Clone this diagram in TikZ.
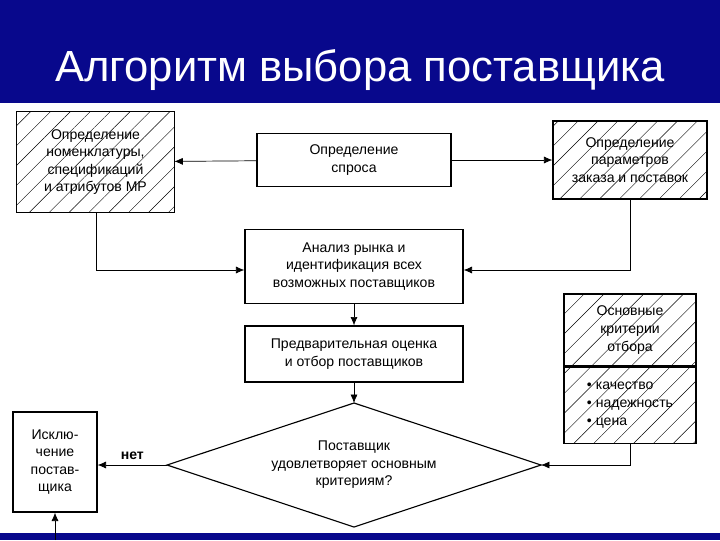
\documentclass[tikz,border=0pt]{standalone}
\usepackage{fontspec}
\setmainfont{Liberation Sans}
\usetikzlibrary{arrows.meta}
\usetikzlibrary{patterns.meta}
\definecolor{hdr}{RGB}{8,8,140}
\tikzset{
  txt/.style={align=center,font=\fontsize{10}{12.5}\selectfont,inner sep=2pt},
  blk/.style={txt,draw,line width=0.8pt},
  hatch/.style={blk,pattern={Lines[angle=45,distance=10pt,line width=0.3pt]}},
  arr/.style={-{Latex[length=6pt,width=5pt]},line width=0.5pt}
}
\begin{document}
\begin{tikzpicture}[x=0.025cm,y=-0.025cm]
\useasboundingbox (0,0) rectangle (720,540);
\fill[hdr] (0,0) rectangle (720,103);
\fill[hdr] (0,533) rectangle (720,540);
\node[white,font=\fontsize{31}{34}\selectfont] (title) at (360,70) {Алгоритм выбора поставщика};
% boxes
\node[hatch,minimum width=3.93cm,minimum height=2.53cm] (nom) at (95.5,162) {Определение\\номенклатуры,\\спецификаций\\и атрибутов МР};
\node[blk,minimum width=4.85cm,minimum height=1.33cm] (dem) at (354,160) {Определение\\спроса};
\node[hatch,minimum width=3.85cm,minimum height=1.95cm] (par) at (630,160) {Определение\\параметров\\заказа и поставок};
\node[blk,minimum width=5.45cm,minimum height=1.83cm] (ana) at (354,266.5) {Анализ рынка и\\идентификация всех\\возможных поставщиков};
\node[blk,minimum width=5.45cm,minimum height=1.4cm] (pre) at (354,354) {Предварительная оценка\\и отбор поставщиков};
% decision
\coordinate (sT) at (354,403);
\coordinate (sL) at (167,465);
\coordinate (sR) at (541,465);
\coordinate (sB) at (354,527);
\draw[line width=0.8pt,fill=white] (sT) -- (sR) -- (sB) -- (sL) -- cycle;
\node[txt] (sat) at (354,465) {Поставщик\\удовлетворяет основным\\критериям?};
\node[hatch,minimum width=3.3cm,minimum height=1.8cm] (crit) at (630,330) {Основные\\критерии\\отбора};
\node[hatch,align=left,anchor=north,minimum width=3.3cm,minimum height=1.9cm] (crl) at (crit.south) {\textbullet\ качество\\\textbullet\ надежность\\\textbullet\ цена};
\node[blk,minimum width=2.1cm,minimum height=2.5cm] (exc) at (55,462) {Исклю-\\чение\\постав-\\щика};
\coordinate (low) at (55,540);
% connectors
\draw[arr] (dem) -- (nom);
\draw[arr] (dem) -- (par);
\draw[arr] (nom.south -| 96,0) |- (ana.west |- 0,270);
\draw[arr] (par.south) |- (ana.east |- 0,270);
\draw[arr] (ana) -- (pre);
\draw[arr] (pre) -- (sT);
\draw[arr] (crl.south) |- (sR);
\draw[arr] (sL) -- node[above,font=\bfseries\fontsize{10}{12}\selectfont] {нет} (exc.east |- sL);
\draw[arr] (low) -- (exc.south);
\end{tikzpicture}
\end{document}
